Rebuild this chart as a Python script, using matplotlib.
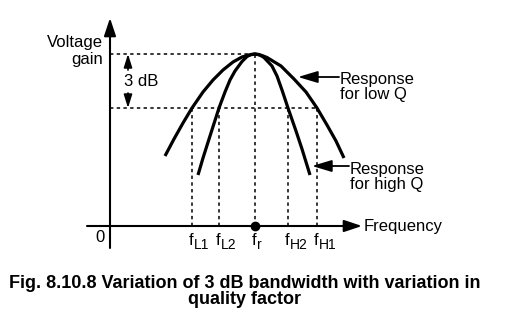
import matplotlib
matplotlib.use("Agg")
import matplotlib.pyplot as plt

plt.rcParams["font.family"] = ["Liberation Sans", "DejaVu Sans"]

# response curves (frequency, gain in arbitrary units)
freq_low = [55, 64, 73, 82, 93, 103, 113, 123, 132, 139, 145, 152, 157,
            171, 184, 196, 207, 217, 226, 234]
gain_low = [70, 87, 103, 118, 134, 146, 156, 164, 169, 171, 172, 170.5, 168.5,
            160, 147, 134, 118, 101, 85, 68]
freq_high = [88, 93, 100, 109, 115, 120, 125, 132, 137, 141, 145, 149, 154,
             162, 167, 172, 178, 186, 192, 200]
gain_high = [51, 68, 90, 118, 134, 146, 155, 164.5, 169.5, 171.5, 172, 171.5,
             168.5, 160, 150, 136, 118, 95, 77, 51]

f_r = 145
cutoffs = [82, 109, 178, 207]
cutoff_subs = ["L1", "L2", "H2", "H1"]
peak_gain = 172
half_power_gain = 118

fig = plt.figure(figsize=(5.16, 3.36), dpi=100)
ax = fig.add_axes([0, 0, 1, 1])
ax.set_xlim(-110, 406)
ax.set_ylim(-110, 226)
ax.axis("off")

# axes with arrows
ax.annotate("", xy=(252, 0), xytext=(-23, 0),
            arrowprops=dict(arrowstyle="-|>,head_length=0.9,head_width=0.3",
                            lw=1.5, color="black", mutation_scale=12,
                            shrinkA=0, shrinkB=0))
ax.annotate("", xy=(0, 208), xytext=(0, -22),
            arrowprops=dict(arrowstyle="-|>,head_length=0.9,head_width=0.3",
                            lw=1.5, color="black", mutation_scale=12,
                            shrinkA=0, shrinkB=0))

# dotted guide lines
dot = dict(color="black", lw=1.1, ls=(0, (2.2, 2.2)))
ax.plot([0, f_r], [peak_gain, peak_gain], **dot)
ax.plot([0, max(cutoffs)], [half_power_gain, half_power_gain], **dot)
ax.plot([f_r, f_r], [0, peak_gain], **dot)
for c in cutoffs:
    ax.plot([c, c], [0, half_power_gain], **dot)

# curves
ax.plot(freq_low, gain_low, color="black", lw=2.3, solid_capstyle="butt",
        solid_joinstyle="round")
ax.plot(freq_high, gain_high, color="black", lw=2.3, solid_capstyle="butt",
        solid_joinstyle="round")
ax.plot([f_r], [0], "o", color="black", ms=6)

# 3 dB marker
ax.annotate("", xy=(18, peak_gain), xytext=(18, 156),
            arrowprops=dict(arrowstyle="-|>,head_length=0.8,head_width=0.25",
                            lw=1.2, color="black", mutation_scale=10,
                            shrinkA=0, shrinkB=0))
ax.annotate("", xy=(18, half_power_gain), xytext=(18, 133),
            arrowprops=dict(arrowstyle="-|>,head_length=0.8,head_width=0.25",
                            lw=1.2, color="black", mutation_scale=10,
                            shrinkA=0, shrinkB=0))
ax.text(14, 144, "3 dB", fontsize=12, ha="left", va="center")

# labels
ax.text(-7, 175, "Voltage\ngain", fontsize=12, ha="right", va="center",
        multialignment="right", linespacing=1.1)
ax.text(254, 0, "Frequency", fontsize=12, ha="left", va="center")
ax.text(-10, -12, "0", fontsize=12, ha="center", va="center")
for c, sub in zip(cutoffs + [f_r], cutoff_subs + ["r"]):
    ax.text(c - 3, -19, "f", fontsize=12, ha="left", va="baseline")
    ax.text(c + 2, -23, sub, fontsize=10, ha="left", va="baseline")

# response annotations
ax.annotate("", xy=(188, 149), xytext=(229, 149),
            arrowprops=dict(arrowstyle="-|>,head_length=1.0,head_width=0.3",
                            lw=1.3, color="black", mutation_scale=12,
                            shrinkA=0, shrinkB=0))
ax.text(230, 139, "Response\nfor low Q", fontsize=12, ha="left", va="center",
        linespacing=1.05)
ax.annotate("", xy=(202, 60), xytext=(239, 60),
            arrowprops=dict(arrowstyle="-|>,head_length=1.0,head_width=0.3",
                            lw=1.3, color="black", mutation_scale=12,
                            shrinkA=0, shrinkB=0))
ax.text(240, 49, "Response\nfor high Q", fontsize=12, ha="left", va="center",
        linespacing=1.05)

# caption
ax.text(135, -57, "Fig. 8.10.8 Variation of 3 dB bandwidth with variation in",
        fontsize=13, fontweight="bold", ha="center", va="center")
ax.text(135, -73, "quality factor", fontsize=13, fontweight="bold",
        ha="center", va="center")

fig.savefig("out.png", dpi=100)
